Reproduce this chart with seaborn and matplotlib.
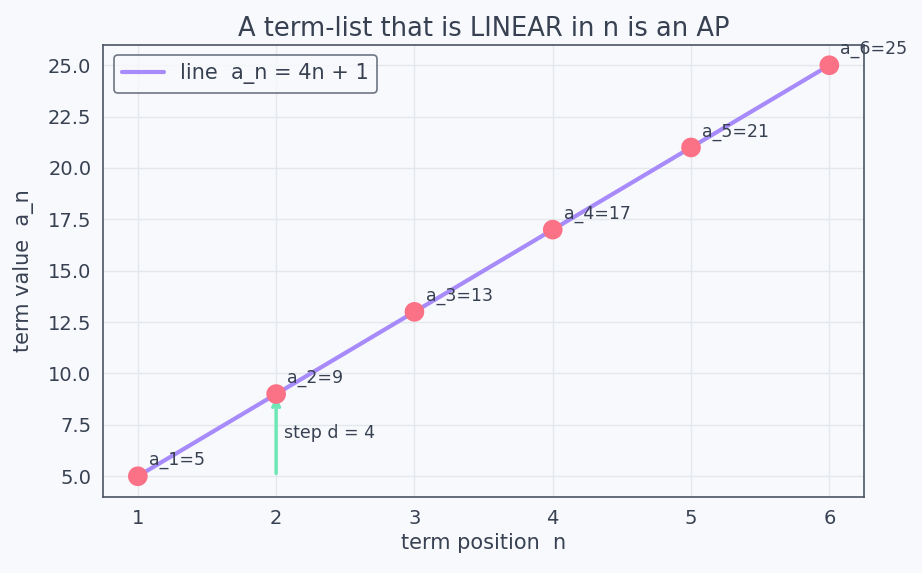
import matplotlib
matplotlib.use("Agg")
import matplotlib.pyplot as plt
import seaborn as sns
import pandas as pd

n_vals = [1, 2, 3, 4, 5, 6]
a_vals = [5, 9, 13, 17, 21, 25]
labels = ["a_1=5", "a_2=9", "a_3=13", "a_4=17", "a_5=21", "a_6=25"]

bg = "#f8f9fd"
text_c = "#374151"
sns.set_theme(style="whitegrid")
plt.rcParams.update({
    "figure.facecolor": bg, "axes.facecolor": bg,
    "axes.edgecolor": "#4b5563", "grid.color": "#e2e8ec",
    "text.color": text_c, "axes.labelcolor": text_c,
    "xtick.color": text_c, "ytick.color": text_c,
})
plt.rcParams["font.family"] = ["DejaVu Sans"]

df = pd.DataFrame({"n": n_vals, "a": a_vals})
fig, ax = plt.subplots(figsize=(9.22, 5.73), dpi=100)
fig.subplots_adjust(left=0.112, right=0.937, top=0.922, bottom=0.133)

sns.lineplot(data=df, x="n", y="a", ax=ax, color="#a78bfa", linewidth=3,
             label="line  a_n = 4n + 1", zorder=2)
sns.scatterplot(data=df, x="n", y="a", ax=ax, color="#fb7185", s=200,
                edgecolor="none", zorder=3, legend=False)

for x, y, t in zip(n_vals, a_vals, labels):
    ax.annotate(t, (x, y), xytext=(8, 8), textcoords="offset points",
                fontsize=12.5, color=text_c)

ax.annotate("", xy=(n_vals[1], a_vals[1]), xytext=(n_vals[1], a_vals[0]),
            arrowprops=dict(arrowstyle="->", color="#6ee7b7", lw=2.5), zorder=2.5)
ax.text(n_vals[1] + 0.06, (a_vals[0] + a_vals[1]) / 2 + 0.1, "step d = 4",
        fontsize=12.5, color=text_c, va="center")

ax.set_xlim(0.75, 6.25)
ax.set_ylim(4.0, 26.0)
ax.set_yticks([5, 7.5, 10, 12.5, 15, 17.5, 20, 22.5, 25])
ax.set_xlabel("term position  n", fontsize=15)
ax.set_ylabel("term value  a_n", fontsize=15, labelpad=10)
ax.set_title("A term-list that is LINEAR in n is an AP", fontsize=18.5, color=text_c)
ax.tick_params(labelsize=14, length=5, color="#4b5563")
for s in ax.spines.values():
    s.set_linewidth(1.2)
leg = ax.legend(loc="upper left", fontsize=15, frameon=True)
leg.get_frame().set_edgecolor("#4b5563")
leg.get_frame().set_facecolor(bg)
leg.get_frame().set_linewidth(1.2)
fig.savefig("out.png", dpi=100, facecolor=bg)
